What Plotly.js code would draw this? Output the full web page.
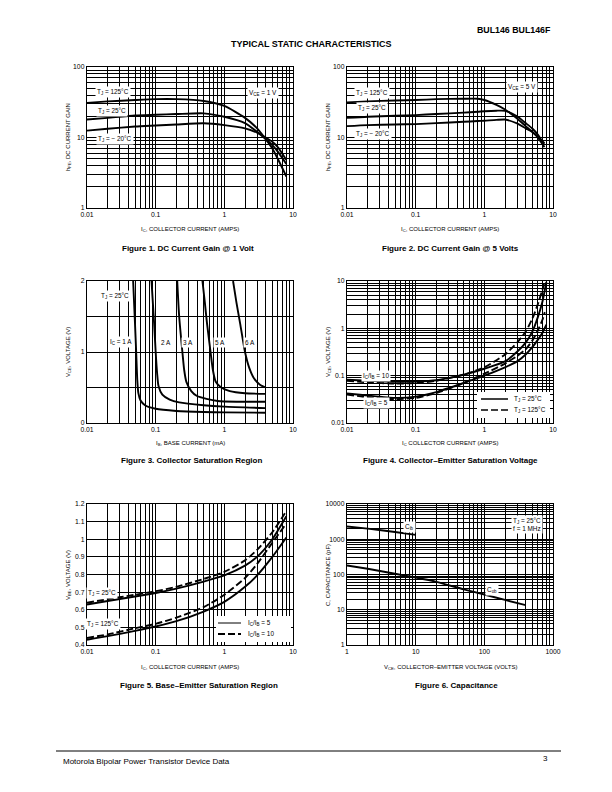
<!DOCTYPE html>
<html><head><meta charset="utf-8">
<script src="https://cdn.plot.ly/plotly-3.0.1.min.js"></script>
<style>html,body{margin:0;padding:0;background:#fff}#chart{width:612px;height:792px}</style>
</head><body><div id="chart"></div>
<script>
// ---------- Figure 1: DC current gain @ VCE = 1 V ----------
const fig1_ic      = [0.01, 0.02, 0.05, 0.1, 0.2, 0.5, 1, 2, 3, 4, 5, 6, 8];
const fig1_hfe_125 = [31, 32.5, 34, 35, 35, 33, 28, 19, 13.5, 9.5, 7, 5, 2.8];
const fig1_hfe_25  = [18, 19, 20.5, 21, 21.5, 22, 19.7, 16, 12, 9.5, 7.8, 6.3, 4.2];
const fig1_hfe_m20 = [12.5, 13.3, 14.3, 14.8, 15.3, 15.9, 15, 13.5, 11.7, 10, 8.7, 7.3, 4.8];

// ---------- Figure 2: DC current gain @ VCE = 5 V ----------
const fig2_ic      = [0.01, 0.02, 0.05, 0.1, 0.2, 0.5, 0.8, 1, 1.5, 2, 3, 4, 5, 6, 7.5];
const fig2_hfe_125 = [31.5, 32.5, 33.5, 34, 35, 35.5, 35.5, 34, 29, 25, 18.6, 14.5, 12, 10, 7.3];
const fig2_hfe_25  = [19, 19.7, 20.3, 20.8, 21.5, 22.5, 23.2, 23.6, 24, 23.9, 20, 16, 13.4, 11, 7.8];
const fig2_hfe_m20 = [14.5, 15, 15.3, 15.5, 16, 16.7, 17.1, 17.3, 17.8, 18, 15.8, 13.5, 12, 10.3, 8.3];

// ---------- Figure 3: collector saturation region (IB in mA, VCE in V) ----------
const fig3_ib_1A  = [0.047, 0.05, 0.052, 0.054, 0.056, 0.06, 0.07, 0.1, 0.2, 0.5, 1, 4];
const fig3_vce_1A = [2, 1.4, 1, 0.6, 0.42, 0.32, 0.25, 0.2, 0.17, 0.155, 0.15, 0.145];
const fig3_ib_2A  = [0.087, 0.095, 0.1, 0.105, 0.11, 0.125, 0.16, 0.22, 0.5, 1, 4];
const fig3_vce_2A = [2, 1.4, 1, 0.7, 0.52, 0.4, 0.33, 0.29, 0.25, 0.23, 0.21];
const fig3_ib_3A  = [0.206, 0.22, 0.245, 0.26, 0.28, 0.33, 0.4, 0.55, 0.8, 1.5, 4];
const fig3_vce_3A = [2, 1.5, 1, 0.75, 0.58, 0.45, 0.38, 0.34, 0.31, 0.3, 0.3];
const fig3_ib_5A  = [0.48, 0.52, 0.56, 0.63, 0.68, 0.75, 0.9, 1.2, 2, 4];
const fig3_vce_5A = [2, 1.7, 1.4, 1, 0.75, 0.58, 0.5, 0.45, 0.42, 0.41];
const fig3_ib_6A  = [1.34, 1.5, 1.7, 2.0, 2.3, 2.7, 3.3, 4];
const fig3_vce_6A = [2, 1.7, 1.4, 1, 0.78, 0.63, 0.54, 0.5];

// ---------- Figure 4: collector-emitter saturation voltage ----------
const fig4_ic_a      = [0.01, 0.02, 0.05, 0.1, 0.2, 0.5, 1, 2, 3, 4, 5, 6, 7, 8];
const fig4_vce10_25  = [0.082, 0.078, 0.074, 0.075, 0.08, 0.105, 0.14, 0.2, 0.32, 0.5, 0.85, 1.7, 3.6, 9.5];
const fig4_ic_b      = [0.01, 0.02, 0.05, 0.1, 0.2, 0.5, 1, 2, 3, 4, 5, 6, 7, 7.5];
const fig4_vce10_125 = [0.078, 0.072, 0.068, 0.07, 0.078, 0.105, 0.15, 0.28, 0.5, 0.85, 1.6, 3.2, 6.5, 9.5];
const fig4_vce5_25   = [0.042, 0.038, 0.034, 0.036, 0.045, 0.07, 0.1, 0.15, 0.2, 0.28, 0.4, 0.57, 0.8, 1.2];
const fig4_ic_c      = [0.01, 0.02, 0.05, 0.1, 0.2, 0.5, 1, 2, 3, 4, 5, 6, 7, 7.6];
const fig4_vce5_125  = [0.04, 0.035, 0.032, 0.034, 0.043, 0.07, 0.11, 0.18, 0.26, 0.36, 0.55, 0.9, 1.5, 2.2];

// ---------- Figure 5: base-emitter saturation region ----------
const fig5_ic        = [0.01, 0.02, 0.05, 0.1, 0.2, 0.5, 1, 2, 3, 5, 8];
const fig5_vbe25_5   = [0.63, 0.65, 0.675, 0.695, 0.72, 0.76, 0.795, 0.85, 0.9, 1.0, 1.13];
const fig5_vbe25_10  = [0.64, 0.66, 0.685, 0.705, 0.73, 0.775, 0.815, 0.88, 0.94, 1.04, 1.16];
const fig5_vbe125_5  = [0.43, 0.45, 0.48, 0.505, 0.535, 0.59, 0.645, 0.73, 0.795, 0.9, 1.01];
const fig5_vbe125_10 = [0.44, 0.46, 0.495, 0.52, 0.555, 0.615, 0.685, 0.78, 0.86, 0.98, 1.09];

// ---------- Figure 6: capacitance ----------
const fig6_vce_cib = [1, 2, 5, 10];
const fig6_cib     = [2300, 2000, 1600, 1330];
const fig6_vce_cob = [1, 2, 5, 10, 20, 50, 100, 200, 400];
const fig6_cob     = [180, 145, 105, 82, 62, 38, 27, 19, 13.5];

// ---------- tick labels ----------
const ticksAmps  = ['0.01', '0.1', '1', '10'];
const ticksGain  = ['1', '10', '100'];
const ticksVce4  = ['0.01', '0.1', '1', '10'];
const ticksVolts = ['1', '10', '100', '1000'];
const ticksCap   = ['1', '10', '100', '1000', '10000'];
const ticksFig3Y = ['0', '1', '2'];
const ticksFig5Y = ['0.4', '0.5', '0.6', '0.7', '0.8', '0.9', '1', '1.1', '1.2'];

const F = 'Liberation Sans, Arial, Helvetica, sans-serif';
const W = 612, H = 792;
const px = x => x / W, py = y => 1 - y / H;

function decades(lo, hi) { const v = []; for (let e = lo; e <= hi; e++) v.push(+Math.pow(10, e).toPrecision(3)); return v; }
function minorLog(lo, hi) {
  const v = [];
  for (let e = lo; e < hi; e++) for (let d = 2; d < 10; d++) v.push(+(d * Math.pow(10, e)).toPrecision(3));
  return v;
}
const GRID = { showgrid: true, gridcolor: '#000', gridwidth: 1, ticks: '' };
const base = {
  showgrid: true, gridcolor: '#000', gridwidth: 1, zeroline: false,
  showline: true, linecolor: '#000', linewidth: 1.2, mirror: true,
  ticks: '', tickfont: { family: F, size: 6.8, color: '#000' }, fixedrange: true
};
function logAxis(domain, lo, hi, labels, anchor) {
  return Object.assign({}, base, { type: 'log', range: [lo, hi], domain, anchor, tickmode: 'array',
    tickvals: decades(lo, hi), ticktext: labels,
    minor: Object.assign({ tickmode: 'array', tickvals: minorLog(lo, hi) }, GRID) });
}
function linAxis(domain, lo, hi, vals, labels, anchor, minorVals) {
  const a = Object.assign({}, base, { type: 'linear', range: [lo, hi], domain, anchor, tickmode: 'array', tickvals: vals, ticktext: labels });
  if (minorVals) a.minor = Object.assign({ tickmode: 'array', tickvals: minorVals }, GRID);
  return a;
}
function tr(x, y, xa, ya, dash) {
  return { x, y, xaxis: xa, yaxis: ya, type: 'scatter', mode: 'lines', hoverinfo: 'skip', showlegend: false,
    line: { color: '#000', width: 1.9, shape: 'spline', smoothing: 0.6, dash: dash || 'solid' } };
}
const DASH = '7px,3px';

const colL = [87 / W, 293 / W], colR = [347 / W, 553 / W];
const row1 = [py(208), py(67)], row2 = [py(423), py(281)], row3 = [py(645), py(504)];

const data = [
  tr(fig1_ic, fig1_hfe_125, 'x', 'y'), tr(fig1_ic, fig1_hfe_25, 'x', 'y'), tr(fig1_ic, fig1_hfe_m20, 'x', 'y'),
  tr(fig2_ic, fig2_hfe_125, 'x2', 'y2'), tr(fig2_ic, fig2_hfe_25, 'x2', 'y2'), tr(fig2_ic, fig2_hfe_m20, 'x2', 'y2'),
  tr(fig3_ib_1A, fig3_vce_1A, 'x3', 'y3'), tr(fig3_ib_2A, fig3_vce_2A, 'x3', 'y3'), tr(fig3_ib_3A, fig3_vce_3A, 'x3', 'y3'),
  tr(fig3_ib_5A, fig3_vce_5A, 'x3', 'y3'), tr(fig3_ib_6A, fig3_vce_6A, 'x3', 'y3'),
  tr(fig4_ic_a, fig4_vce10_25, 'x4', 'y4'), tr(fig4_ic_b, fig4_vce10_125, 'x4', 'y4', DASH),
  tr(fig4_ic_a, fig4_vce5_25, 'x4', 'y4'), tr(fig4_ic_c, fig4_vce5_125, 'x4', 'y4', DASH),
  tr(fig5_ic, fig5_vbe25_5, 'x5', 'y5'), tr(fig5_ic, fig5_vbe25_10, 'x5', 'y5', DASH),
  tr(fig5_ic, fig5_vbe125_5, 'x5', 'y5'), tr(fig5_ic, fig5_vbe125_10, 'x5', 'y5', DASH),
  tr(fig6_vce_cib, fig6_cib, 'x6', 'y6'), tr(fig6_vce_cob, fig6_cob, 'x6', 'y6')
];

function lbl(text, x, y, opts) {
  return Object.assign({ text, x: px(x), y: py(y), xref: 'paper', yref: 'paper', showarrow: false,
    font: { family: F, size: 6.4, color: '#000' }, bgcolor: '#fff', borderpad: 1, xanchor: 'center', yanchor: 'middle' }, opts || {});
}
function txt(text, x, y, size, opts) {
  return Object.assign({ text, x: px(x), y: py(y), xref: 'paper', yref: 'paper', showarrow: false,
    font: { family: F, size, color: '#000' }, xanchor: 'center', yanchor: 'middle' }, opts || {});
}

const annotations = [
  // header / footer
  txt('<b>BUL146 BUL146F</b>', 553, 30, 8.8, { xanchor: 'right' }),
  txt('<b>TYPICAL STATIC CHARACTERISTICS</b>', 311, 44, 9),
  txt('Motorola Bipolar Power Transistor Device Data', 61, 761, 8, { xanchor: 'left' }),
  txt('3', 550, 758, 8, { xanchor: 'right' }),
  // captions
  txt('<b>Figure 1. DC Current Gain @ 1 Volt</b>', 188, 248, 8),
  txt('<b>Figure 2. DC Current Gain @ 5 Volts</b>', 450, 248, 8),
  txt('<b>Figure 3. Collector Saturation Region</b>', 191, 460, 8),
  txt('<b>Figure 4. Collector–Emitter Saturation Voltage</b>', 450, 460, 8),
  txt('<b>Figure 5. Base–Emitter Saturation Region</b>', 199, 685, 8),
  txt('<b>Figure 6. Capacitance</b>', 456, 685, 8),
  // axis titles
  txt('I<sub>C</sub>, COLLECTOR CURRENT (AMPS)', 190, 229, 6),
  txt('I<sub>C</sub>, COLLECTOR CURRENT (AMPS)', 450, 229, 6),
  txt('I<sub>B</sub>, BASE CURRENT (mA)', 190, 443, 6),
  txt('I<sub>C</sub> COLLECTOR CURRENT (AMPS)', 450, 443, 6),
  txt('I<sub>C</sub>, COLLECTOR CURRENT (AMPS)', 190, 667, 6),
  txt('V<sub>CE</sub>, COLLECTOR–EMITTER VOLTAGE (VOLTS)', 450, 667, 6),
  txt('h<sub>FE</sub>, DC CURRENT GAIN', 68, 137, 6, { textangle: -90 }),
  txt('h<sub>FE</sub>, DC CURRENT GAIN', 328, 137, 6, { textangle: -90 }),
  txt('V<sub>CE</sub>, VOLTAGE (V)', 68, 352, 6, { textangle: -90 }),
  txt('V<sub>CE</sub>, VOLTAGE (V)', 328, 352, 6, { textangle: -90 }),
  txt('V<sub>BE</sub>, VOLTAGE (V)', 68, 575, 6, { textangle: -90 }),
  txt('C, CAPACITANCE (pF)', 328, 575, 6, { textangle: -90 }),
  // fig 1 labels
  lbl('T<sub>J</sub> = 125°C', 113, 92), lbl('T<sub>J</sub> = 25°C', 112, 111), lbl('T<sub>J</sub> = − 20°C', 115, 139),
  lbl('V<sub>CE</sub> = 1 V', 263, 93),
  // fig 2 labels
  lbl('T<sub>J</sub> = 125°C', 372, 93), lbl('T<sub>J</sub> = 25°C', 372, 108), lbl('T<sub>J</sub> = − 20°C', 373, 134),
  lbl('V<sub>CE</sub> = 5 V', 522, 87),
  // fig 3 labels
  lbl('T<sub>J</sub> = 25°C', 115, 296), lbl('I<sub>C</sub> = 1 A', 121, 342), lbl('2 A', 166, 342),
  lbl('3 A', 188, 342), lbl('5 A', 220, 342), lbl('6 A', 250, 342),
  // fig 4 labels
  lbl('I<sub>C</sub>/I<sub>B</sub> = 10', 376, 376), lbl('I<sub>C</sub>/I<sub>B</sub> = 5', 376, 403),
  txt('T<sub>J</sub> = 25°C', 512, 399, 6.4, { xanchor: 'left' }),
  txt('T<sub>J</sub> = 125°C', 512, 410, 6.4, { xanchor: 'left' }),
  // fig 5 labels
  lbl('T<sub>J</sub> = 25°C', 102, 593), lbl('T<sub>J</sub> = 125°C', 103, 624),
  txt('I<sub>C</sub>/I<sub>B</sub> = 5', 246, 623, 6.4, { xanchor: 'left' }),
  txt('I<sub>C</sub>/I<sub>B</sub> = 10', 246, 634, 6.4, { xanchor: 'left' }),
  // fig 6 labels
  lbl('C<sub>ib</sub>', 410, 527), lbl('C<sub>ob</sub>', 492, 590),
  lbl('T<sub>J</sub> = 25°C<br>f = 1 MHz', 527, 524)
];

const shapes = [
  { type: 'line', xref: 'paper', yref: 'paper', x0: px(56), x1: px(561), y0: py(751), y1: py(751), line: { color: '#000', width: 1 } },
  // fig 4 legend box
  { type: 'rect', xref: 'paper', yref: 'paper', x0: px(477), x1: px(550), y0: py(418), y1: py(392), fillcolor: '#fff', line: { width: 0 } },
  { type: 'line', xref: 'paper', yref: 'paper', x0: px(481), x1: px(508), y0: py(399), y1: py(399), line: { color: '#000', width: 1.5 } },
  { type: 'line', xref: 'paper', yref: 'paper', x0: px(481), x1: px(508), y0: py(410), y1: py(410), line: { color: '#000', width: 1.5, dash: DASH } },
  // fig 5 legend box
  { type: 'rect', xref: 'paper', yref: 'paper', x0: px(216), x1: px(291), y0: py(642), y1: py(616), fillcolor: '#fff', line: { width: 0 } },
  { type: 'line', xref: 'paper', yref: 'paper', x0: px(218), x1: px(241), y0: py(623), y1: py(623), line: { color: '#000', width: 1 } },
  { type: 'line', xref: 'paper', yref: 'paper', x0: px(218), x1: px(241), y0: py(634), y1: py(634), line: { color: '#000', width: 2, dash: DASH } }
];

const layout = {
  width: W, height: H, margin: { l: 0, r: 0, t: 0, b: 0 }, paper_bgcolor: '#fff', plot_bgcolor: '#fff',
  showlegend: false, font: { family: F, color: '#000' },
  xaxis:  logAxis(colL, -2, 1, ticksAmps, 'y'),
  yaxis:  logAxis(row1, 0, 2, ticksGain, 'x'),
  xaxis2: logAxis(colR, -2, 1, ticksAmps, 'y2'),
  yaxis2: logAxis(row1, 0, 2, ticksGain, 'x2'),
  xaxis3: logAxis(colL, -2, 1, ticksAmps, 'y3'),
  yaxis3: linAxis(row2, 0, 2, [0, 1, 2], ticksFig3Y, 'x3', [0.5, 1.5]),
  xaxis4: logAxis(colR, -2, 1, ticksAmps, 'y4'),
  yaxis4: logAxis(row2, -2, 1, ticksVce4, 'x4'),
  xaxis5: logAxis(colL, -2, 1, ticksAmps, 'y5'),
  yaxis5: linAxis(row3, 0.4, 1.2, [0.4, 0.5, 0.6, 0.7, 0.8, 0.9, 1.0, 1.1, 1.2], ticksFig5Y, 'x5'),
  xaxis6: logAxis(colR, 0, 3, ticksVolts, 'y6'),
  yaxis6: logAxis(row3, 0, 4, ticksCap, 'x6'),
  annotations, shapes
};

Plotly.newPlot('chart', data, layout, { staticPlot: true, displayModeBar: false });
</script>
</body></html>
